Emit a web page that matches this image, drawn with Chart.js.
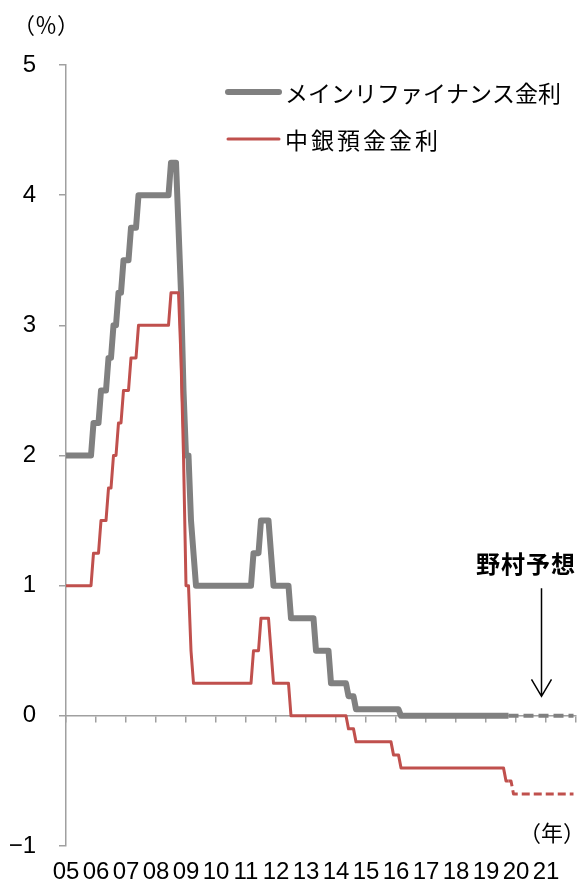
<!DOCTYPE html>
<html lang="ja">
<head>
<meta charset="utf-8">
<title>ECB 政策金利の推移</title>
<script src="https://cdn.jsdelivr.net/npm/chart.js@4.4.1/dist/chart.umd.min.js"></script>
<style>
  html, body { margin: 0; padding: 0; background: #fff; }
  canvas { display: block; }
</style>
</head>
<body>
<canvas id="rates" width="583" height="885"></canvas>
<script>
// ---- data -------------------------------------------------------------
// month-end policy rates (%), one row per year, Jan..Dec
const firstYear = 2005;
const lastYear = 2022;
const yearLabels = ['05','06','07','08','09','10','11','12','13','14','15','16','17','18','19','20','21'];

const seriesNames = ['メインリファイナンス金利', '中銀預金金利'];

// actual: Jan 2005 - Oct 2019
const mainRefiRate = [
  2.00, 2.00, 2.00, 2.00, 2.00, 2.00, 2.00, 2.00, 2.00, 2.00, 2.00, 2.25,
  2.25, 2.25, 2.50, 2.50, 2.50, 2.75, 2.75, 3.00, 3.00, 3.25, 3.25, 3.50,
  3.50, 3.50, 3.75, 3.75, 3.75, 4.00, 4.00, 4.00, 4.00, 4.00, 4.00, 4.00,
  4.00, 4.00, 4.00, 4.00, 4.00, 4.00, 4.25, 4.25, 4.25, 3.75, 3.25, 2.50,
  2.00, 2.00, 1.50, 1.25, 1.00, 1.00, 1.00, 1.00, 1.00, 1.00, 1.00, 1.00,
  1.00, 1.00, 1.00, 1.00, 1.00, 1.00, 1.00, 1.00, 1.00, 1.00, 1.00, 1.00,
  1.00, 1.00, 1.00, 1.25, 1.25, 1.25, 1.50, 1.50, 1.50, 1.50, 1.25, 1.00,
  1.00, 1.00, 1.00, 1.00, 1.00, 1.00, 0.75, 0.75, 0.75, 0.75, 0.75, 0.75,
  0.75, 0.75, 0.75, 0.75, 0.50, 0.50, 0.50, 0.50, 0.50, 0.50, 0.25, 0.25,
  0.25, 0.25, 0.25, 0.25, 0.25, 0.15, 0.15, 0.15, 0.05, 0.05, 0.05, 0.05,
  0.05, 0.05, 0.05, 0.05, 0.05, 0.05, 0.05, 0.05, 0.05, 0.05, 0.05, 0.05,
  0.05, 0.05, 0.00, 0.00, 0.00, 0.00, 0.00, 0.00, 0.00, 0.00, 0.00, 0.00,
  0.00, 0.00, 0.00, 0.00, 0.00, 0.00, 0.00, 0.00, 0.00, 0.00, 0.00, 0.00,
  0.00, 0.00, 0.00, 0.00, 0.00, 0.00, 0.00, 0.00, 0.00, 0.00, 0.00, 0.00,
  0.00, 0.00, 0.00, 0.00, 0.00, 0.00, 0.00, 0.00, 0.00, 0.00
];

const depositRate = [
  1.00, 1.00, 1.00, 1.00, 1.00, 1.00, 1.00, 1.00, 1.00, 1.00, 1.00, 1.25,
  1.25, 1.25, 1.50, 1.50, 1.50, 1.75, 1.75, 2.00, 2.00, 2.25, 2.25, 2.50,
  2.50, 2.50, 2.75, 2.75, 2.75, 3.00, 3.00, 3.00, 3.00, 3.00, 3.00, 3.00,
  3.00, 3.00, 3.00, 3.00, 3.00, 3.00, 3.25, 3.25, 3.25, 3.25, 2.75, 2.00,
  1.00, 1.00, 0.50, 0.25, 0.25, 0.25, 0.25, 0.25, 0.25, 0.25, 0.25, 0.25,
  0.25, 0.25, 0.25, 0.25, 0.25, 0.25, 0.25, 0.25, 0.25, 0.25, 0.25, 0.25,
  0.25, 0.25, 0.25, 0.50, 0.50, 0.50, 0.75, 0.75, 0.75, 0.75, 0.50, 0.25,
  0.25, 0.25, 0.25, 0.25, 0.25, 0.25, 0.00, 0.00, 0.00, 0.00, 0.00, 0.00,
  0.00, 0.00, 0.00, 0.00, 0.00, 0.00, 0.00, 0.00, 0.00, 0.00, 0.00, 0.00,
  0.00, 0.00, 0.00, 0.00, 0.00, -0.10, -0.10, -0.10, -0.20, -0.20, -0.20, -0.20,
  -0.20, -0.20, -0.20, -0.20, -0.20, -0.20, -0.20, -0.20, -0.20, -0.20, -0.20, -0.30,
  -0.30, -0.30, -0.40, -0.40, -0.40, -0.40, -0.40, -0.40, -0.40, -0.40, -0.40, -0.40,
  -0.40, -0.40, -0.40, -0.40, -0.40, -0.40, -0.40, -0.40, -0.40, -0.40, -0.40, -0.40,
  -0.40, -0.40, -0.40, -0.40, -0.40, -0.40, -0.40, -0.40, -0.40, -0.40, -0.40, -0.40,
  -0.40, -0.40, -0.40, -0.40, -0.40, -0.40, -0.40, -0.40, -0.50, -0.50
];

// Nomura forecast: Oct 2019 - Dec 2021
const mainRefiForecast = [
                                                                0.00, 0.00, 0.00,
  0.00, 0.00, 0.00, 0.00, 0.00, 0.00, 0.00, 0.00, 0.00, 0.00, 0.00, 0.00,
  0.00, 0.00, 0.00, 0.00, 0.00, 0.00, 0.00, 0.00, 0.00, 0.00, 0.00, 0.00
];
const depositForecast = [
                                                                -0.50, -0.50, -0.60,
  -0.60, -0.60, -0.60, -0.60, -0.60, -0.60, -0.60, -0.60, -0.60, -0.60, -0.60, -0.60,
  -0.60, -0.60, -0.60, -0.60, -0.60, -0.60, -0.60, -0.60, -0.60, -0.60, -0.60, -0.60
];

const forecastLabel = '野村予想';
const unitY = '（％）';
const unitX = '（年）';

// ---- styling ------------------------------------------------------------
const GRAY = '#808080';
const RED = '#C0504D';
const AXIS = '#a0a0a0';
const NUM_FONT = "'Liberation Sans Narrow', 'Liberation Sans', Arial, sans-serif";
const JP_FONT = "'Noto Sans CJK JP', 'Noto Sans', sans-serif";

// place monthly values on a continuous year axis
function monthly(values, year, monthIndex) {
  return values.map((v, i) => ({ x: year + (monthIndex + i) / 12, y: v }));
}

// keep the plot area fixed: no extra room for overhanging tick labels
function fixedBox(size) {
  return s => {
    if (s.isHorizontal()) { s.height = size; } else { s.width = size; }
    s.paddingLeft = 0; s.paddingRight = 0; s.paddingTop = 0; s.paddingBottom = 0;
  };
}

const notes = {
  id: 'notes',
  afterDraw(chart) {
    const { ctx, chartArea, scales } = chart;
    const xs = scales.x, ys = scales.y;
    ctx.save();
    ctx.fillStyle = '#000';
    ctx.textBaseline = 'middle';

    // unit captions
    ctx.font = `22px ${JP_FONT}`;
    ctx.textAlign = 'center';
    ctx.fillText(unitY, 46, 25);
    ctx.fillText(unitX, 552, 833);

    // legend: one row per actual series
    const rows = [
      { ds: chart.data.datasets[1], y: 92, spacing: '0px' },
      { ds: chart.data.datasets[0], y: 139, spacing: '3px' }
    ];
    ctx.textAlign = 'left';
    ctx.font = `23px ${JP_FONT}`;
    rows.forEach(r => {
      ctx.beginPath();
      ctx.strokeStyle = r.ds.borderColor;
      ctx.lineWidth = r.ds.borderWidth;
      ctx.lineCap = 'round';
      ctx.moveTo(228, r.y);
      ctx.lineTo(279, r.y);
      ctx.stroke();
      ctx.letterSpacing = r.spacing;
      ctx.fillText(r.ds.label, 285, r.y + 1);
    });
    ctx.letterSpacing = '0px';

    // forecast note with arrow
    const ax = Math.round(xs.getPixelForValue(2020 + 10 / 12)) + 0.5;
    const top = ys.getPixelForValue(0.98);
    const tip = ys.getPixelForValue(0.15);
    ctx.strokeStyle = '#000';
    ctx.lineWidth = 1.5;
    ctx.lineCap = 'butt';
    ctx.beginPath();
    ctx.moveTo(ax, top);
    ctx.lineTo(ax, tip);
    ctx.moveTo(ax - 10, tip - 17);
    ctx.lineTo(ax, tip);
    ctx.lineTo(ax + 10, tip - 17);
    ctx.stroke();

    ctx.font = `bold 24px ${JP_FONT}`;
    ctx.letterSpacing = '1px';
    ctx.textAlign = 'right';
    ctx.fillText(forecastLabel, chartArea.right, ys.getPixelForValue(1.17));
    ctx.restore();
  }
};

new Chart(document.getElementById('rates'), {
  type: 'line',
  data: {
    datasets: [
      {
        label: seriesNames[1],
        data: monthly(depositRate, firstYear, 0),
        borderColor: RED, borderWidth: 3, order: 1
      },
      {
        label: seriesNames[0],
        data: monthly(mainRefiRate, firstYear, 0),
        borderColor: GRAY, borderWidth: 6, order: 3
      },
      {
        label: seriesNames[1] + '（予想）',
        data: monthly(depositForecast, 2019, 9),
        borderColor: RED, borderWidth: 3, borderDash: [8, 4], order: 2
      },
      {
        label: seriesNames[0] + '（予想）',
        data: monthly(mainRefiForecast, 2019, 9),
        borderColor: GRAY, borderWidth: 4, borderDash: [10, 5], order: 4
      }
    ]
  },
  options: {
    responsive: false,
    animation: false,
    elements: {
      point: { radius: 0, hoverRadius: 0 },
      line: { tension: 0, fill: false, borderJoinStyle: 'round', borderCapStyle: 'butt' }
    },
    layout: { padding: { top: 65, right: 7, left: 0, bottom: 0 } },
    plugins: { legend: { display: false }, tooltip: { enabled: false } },
    scales: {
      x: {
        type: 'linear',
        position: 'bottom',
        min: firstYear, max: lastYear,
        grid: { display: false, drawTicks: false },
        border: { display: false },
        ticks: {
          stepSize: 1, autoSkip: false, maxRotation: 0, padding: 12,
          color: '#000',
          font: { family: NUM_FONT, size: 24 },
          callback: v => yearLabels[v - firstYear] ?? ''
        },
        afterFit: fixedBox(39)
      },
      xZero: {
        type: 'linear',
        axis: 'x',
        position: { y: 0 },
        min: firstYear, max: lastYear,
        ticks: { display: false, stepSize: 1, autoSkip: false },
        grid: { drawOnChartArea: false, drawTicks: true, tickLength: 6, color: AXIS, lineWidth: 1.5 },
        border: { color: AXIS, width: 1.5 },
        afterFit: s => { s.paddingLeft = 0; s.paddingRight = 0; }
      },
      y: {
        type: 'linear',
        position: 'left',
        min: -1, max: 5,
        grid: { drawOnChartArea: false, tickLength: 7, color: AXIS, lineWidth: 1.5 },
        border: { color: AXIS, width: 1.5 },
        ticks: {
          stepSize: 1, padding: 23, color: '#000',
          font: { family: NUM_FONT, size: 24 },
          callback: v => v < 0 ? '−' + Math.abs(v) : String(v)
        },
        afterFit: fixedBox(66)
      }
    }
  },
  plugins: [notes]
});
</script>
</body>
</html>
